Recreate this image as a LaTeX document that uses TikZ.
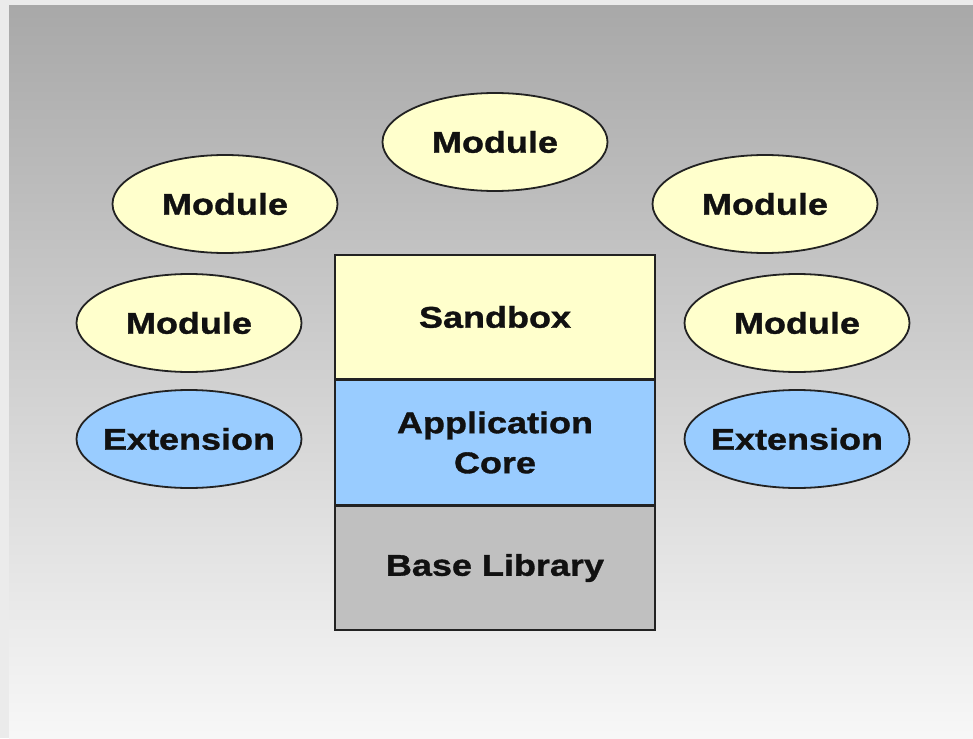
\documentclass[tikz,border=0pt]{standalone}
\usepackage{fontspec}
\newfontfamily\diagfont[FakeStretch=1.2, BoldFeatures={FakeBold=1.2}]{Liberation Sans}
\usetikzlibrary{positioning}
\usetikzlibrary{shapes.geometric}
\definecolor{modfill}{HTML}{FFFFCC}
\definecolor{extfill}{HTML}{99CCFF}
\definecolor{basefill}{HTML}{C0C0C0}
\definecolor{edgecol}{HTML}{222222}
\definecolor{textcol}{HTML}{111111}
\definecolor{framebg}{HTML}{EBEBEB}
\tikzset{
  labeltext/.style={text=textcol, font=\diagfont\bfseries\fontsize{30}{40}\selectfont},
  module/.style={ellipse, draw=edgecol, line width=1.8pt, fill=modfill, minimum width=225pt, minimum height=98pt, inner sep=0pt, labeltext},
  extension/.style={module, fill=extfill, inner xsep=-8pt},
  stackbox/.style={rectangle, draw=edgecol, line width=1.5pt, minimum width=320pt, minimum height=124pt, inner sep=0pt, align=center, labeltext}
}
\begin{document}
\begin{tikzpicture}[x=1pt, y=-1pt]
        \useasboundingbox (0,0) rectangle (973,738);
        \fill[framebg] (0,0) rectangle (973,738);
        \shade[top color=black!34, middle color=black!17, bottom color=black!3] (9,6) rectangle (973,738);

        % the layered core
        \node[stackbox, fill=modfill] (sandbox) at (495,317) {Sandbox};
        \node[stackbox, fill=extfill, below = 0pt of sandbox] (core) {Application\\Core};
        \node[stackbox, fill=basefill, below = 0pt of core] (base) {Base Library};

        % modules around it
        \node[module] (mod_top) at (495,142) {Module};
        \node[module] (mod_l1) at (225,204) {Module};
        \node[module] (mod_r1) at (765,204) {Module};
        \node[module] (mod_l2) at (189,323) {Module};
        \node[module] (mod_r2) at (797,323) {Module};

        % extensions
        \node[extension] (ext_l) at (189,439) {Extension};
        \node[extension] (ext_r) at (797,439) {Extension};
    \end{tikzpicture}
\end{document}
